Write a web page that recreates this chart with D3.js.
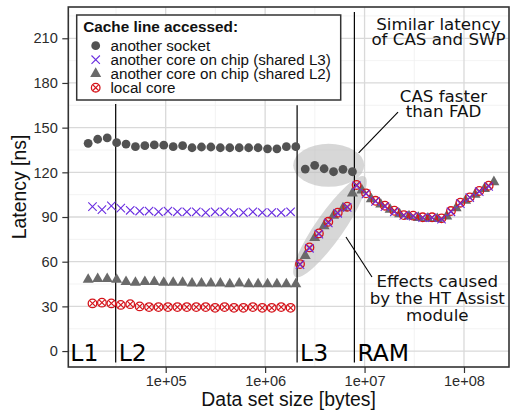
<!DOCTYPE html>
<html>
<head>
<meta charset="utf-8">
<script src="https://cdn.jsdelivr.net/npm/d3@7/dist/d3.min.js"></script>
<style>
  body { margin: 0; background: #fff; }
  svg text { font-family: "Liberation Sans", Arial, sans-serif; }
  .note { font-family: "DejaVu Sans", sans-serif; }
</style>
</head>
<body>
<svg id="chart" width="510" height="415"></svg>
<script>
// Data set sizes in bytes (two interleaved measurement grids)
const sizesA = [16600, 20700, 25800, 32100, 39900, 49600, 61700, 76800, 95600, 118900,
  147900, 184000, 229000, 284800, 354400, 441000, 548700, 682600, 849300, 1057000,
  1314000, 1635000, 2035000, 2532000, 3150000, 3919000, 4876000, 6066000, 7546000, 9389000,
  11680000, 14540000, 18080000, 22500000, 27990000, 34820000, 43320000, 53900000, 67070000, 83420000,
  103800000, 129200000, 160700000, 199900000];
const sizesB = [18350, 22830, 28400, 35330, 43960, 54700, 68050, 84670, 105300, 131100,
  163000, 202900, 252400, 314000, 390700, 486100, 604800, 752400, 936200, 1165000,
  1449000, 1803000, 2243000, 2791000, 3472000, 4320000, 5374000, 6687000, 8318000, 10350000,
  12880000, 16020000, 19930000, 24800000, 30850000, 38380000, 47760000, 59420000, 73930000, 91960000,
  114400000, 142400000, 177100000];

// Latency [ns] per series
const anotherSocket = [139.5, 142.2, 143.1, 139.9, 139, 137.2, 137.9, 138.4, 138.2, 137.2,
  137.9, 136.5, 137, 137, 136.5, 136.5, 136.5, 136.5, 136.5, 135.8,
  135.8, 137.2, 137.2, 122.2, 124.7, 122.4, 120.4, 122, 120.4];
const sharedL3 = [97, 95, 97.5, 96, 94.5, 94, 94, 93.5, 94, 93.5,
  93.5, 93.5, 93, 93.5, 93.5, 93, 93, 93.5, 93, 93,
  93, 93.5, 58, 69, 78.5, 86, 92.5, 96.5, 111, 105.5,
  100.5, 97, 93.5, 91, 90.5, 89.5, 89.5, 88.5, 93.5, 99,
  103, 107, 110.5];
const sharedL2 = [48, 48.5, 48.5, 48, 46.5, 46, 46.5, 46.5, 46, 46,
  46, 45.5, 45.5, 45.5, 45.5, 45, 45.5, 45, 45, 45,
  45, 45, 45, 64, 76, 84, 91, 96, 106, 108,
  102, 98.5, 95, 92, 90.5, 89.5, 89, 88.8, 90.5, 96,
  101, 105, 109, 113.5];
const localCore = [32, 32.5, 32, 31, 31.5, 30, 29.5, 29.5, 29.5, 29.5,
  29.5, 29.5, 29.5, 29, 29.5, 29, 29, 29.5, 29, 29,
  29.5, 29, 58.4, 69.6, 79, 86.8, 92.9, 96.9, 111.5, 105.9,
  100.9, 97.6, 94.2, 91.3, 90.9, 89.8, 89.8, 89.1, 94, 99.6,
  103.2, 107.5, 111];

const seriesNames = ["another socket", "another core on chip (shared L3)",
  "another core on chip (shared L2)", "local core"];

// Axis ticks
const yTicks = [0, 30, 60, 90, 120, 150, 180, 210];
const yMinor = [15, 45, 75, 105, 135, 165, 195, 225];
const xTicks = [1e5, 1e6, 1e7, 1e8];
const xTickLabels = ["1e+05", "1e+06", "1e+07", "1e+08"];
const xMinor = [31623, 316228, 3162278, 31622777];
const xDomain = [10480, 2.836e8];
const yDomain = [-10.7, 231];

// Cache level boundaries (bytes) and vertical extent of their markers (ns)
const levels = ["L1", "L2", "L3", "RAM"];
const levelStart = [10480, 31400, 2097152, 7900000];
const levelLineTop = [null, 165.9, 165, 227.7];
const levelLineBottom = -7.6;

// Annotations (data coordinates)
const notes = [
  { lines: ["Similar latency", "of CAS and SWP"], x: 5.54e7, y: [215.5, 205.3] },
  { lines: ["CAS faster", "than FAD"], x: 6.22e7, y: [167.4, 156.9] },
  { lines: ["Effects caused", "by the HT Assist", "module"], x: 5.39e7, y: [42.8, 31.6, 20.2] }
];
const pointers = [
  { x1: 2.17e7, y1: 160.5, x2: 8.72e6, y2: 133 },
  { x1: 6.5e6, y1: 76.6, x2: 1.187e7, y2: 49.7 }
];
const highlights = [
  { x: 4.36e6, y: 124.7, rx: 35.5, ry: 21.5, angle: 0 },
  { x: 4.49e6, y: 83.5, rx: 61, ry: 14, angle: -55 }
];

const svg = d3.select("#chart");
const m = { left: 68.3, right: 509, top: 7, bottom: 367 };

const x = d3.scaleLog().domain(xDomain).range([m.left, m.right]);
const y = d3.scaleLinear().domain(yDomain).range([m.bottom, m.top]);

const gPanel = svg.append("g");
gPanel.append("defs").append("clipPath").attr("id", "clip")
  .append("rect").attr("x", m.left).attr("y", m.top)
  .attr("width", m.right - m.left).attr("height", m.bottom - m.top);

// gridlines
const grid = gPanel.append("g");
grid.selectAll(".ymin").data(yMinor).join("line")
  .attr("x1", m.left).attr("x2", m.right)
  .attr("y1", d => y(d)).attr("y2", d => y(d))
  .attr("stroke", "#f0f0f0").attr("stroke-width", 0.8);
grid.selectAll(".xmin").data(xMinor).join("line")
  .attr("y1", m.top).attr("y2", m.bottom)
  .attr("x1", d => x(d)).attr("x2", d => x(d))
  .attr("stroke", "#f0f0f0").attr("stroke-width", 0.8);
grid.selectAll(".ymaj").data(yTicks).join("line")
  .attr("x1", m.left).attr("x2", m.right)
  .attr("y1", d => y(d)).attr("y2", d => y(d))
  .attr("stroke", "#d9d9d9").attr("stroke-width", 1.3);
grid.selectAll(".xmaj").data(xTicks).join("line")
  .attr("y1", m.top).attr("y2", m.bottom)
  .attr("x1", d => x(d)).attr("x2", d => x(d))
  .attr("stroke", "#d9d9d9").attr("stroke-width", 1.3);

// highlight ellipses
const plot = gPanel.append("g").attr("clip-path", "url(#clip)");
plot.selectAll("ellipse").data(highlights).join("ellipse")
  .attr("cx", 0).attr("cy", 0)
  .attr("rx", d => d.rx).attr("ry", d => d.ry)
  .attr("transform", d => `translate(${x(d.x)},${y(d.y)}) rotate(${d.angle})`)
  .attr("fill", "#bdbdbd").attr("fill-opacity", 0.6);

// cache level boundaries
levels.forEach((name, i) => {
  if (levelLineTop[i] !== null) {
    plot.append("line")
      .attr("x1", x(levelStart[i])).attr("x2", x(levelStart[i]))
      .attr("y1", y(levelLineTop[i])).attr("y2", y(levelLineBottom))
      .attr("stroke", "#000").attr("stroke-width", 1.2);
  }
  plot.append("text").attr("class", "note")
    .attr("x", x(levelStart[i]) + (i === 0 ? 2 : 3))
    .attr("y", y(-6.8))
    .attr("font-size", 23.5).attr("fill", "#000")
    .style("font-family", "'DejaVu Sans', sans-serif")
    .text(name);
});

// marker shapes
const colSocket = "#525252", colL2 = "#6a6a6a", colL3 = "#6a2ee0", colLocal = "#d5151c";
function drawDot(g, cx, cy) {
  g.append("circle").attr("cx", cx).attr("cy", cy).attr("r", 4.4).attr("fill", colSocket);
}
function drawTri(g, cx, cy) {
  const h = 9.6, w = 11;
  g.append("path")
    .attr("d", `M${cx},${cy - h * 2 / 3}L${cx + w / 2},${cy + h / 3}L${cx - w / 2},${cy + h / 3}Z`)
    .attr("fill", colL2);
}
function drawCross(g, cx, cy) {
  const a = 4.2;
  g.append("path")
    .attr("d", `M${cx - a},${cy - a}L${cx + a},${cy + a}M${cx - a},${cy + a}L${cx + a},${cy - a}`)
    .attr("stroke", colL3).attr("stroke-width", 1.1).attr("fill", "none");
}
function drawCircX(g, cx, cy) {
  const r = 4.3, a = r * Math.SQRT1_2;
  g.append("circle").attr("cx", cx).attr("cy", cy).attr("r", r)
    .attr("fill", "none").attr("stroke", colLocal).attr("stroke-width", 1.3);
  g.append("path")
    .attr("d", `M${cx - a},${cy - a}L${cx + a},${cy + a}M${cx - a},${cy + a}L${cx + a},${cy - a}`)
    .attr("stroke", colLocal).attr("stroke-width", 1.2).attr("fill", "none");
}

const pts = plot.append("g");
anotherSocket.forEach((v, i) => drawDot(pts, x(sizesA[i]), y(v)));
sharedL2.forEach((v, i) => drawTri(pts, x(sizesA[i]), y(v)));
localCore.forEach((v, i) => drawCircX(pts, x(sizesB[i]), y(v)));
sharedL3.forEach((v, i) => drawCross(pts, x(sizesB[i]), y(v)));

// annotation pointers and text
plot.selectAll(".ptr").data(pointers).join("line")
  .attr("x1", d => x(d.x1)).attr("y1", d => y(d.y1))
  .attr("x2", d => x(d.x2)).attr("y2", d => y(d.y2))
  .attr("stroke", "#000").attr("stroke-width", 1.1);
notes.forEach(n => {
  n.lines.forEach((t, j) => {
    svg.append("text").attr("class", "note")
      .attr("x", x(n.x)).attr("y", y(n.y[j]))
      .attr("text-anchor", "middle").attr("font-size", 16.7).attr("fill", "#111")
      .style("font-family", "'DejaVu Sans', sans-serif")
      .text(t);
  });
});

// panel border
svg.append("rect").attr("x", m.left).attr("y", m.top)
  .attr("width", m.right - m.left).attr("height", m.bottom - m.top)
  .attr("fill", "none").attr("stroke", "#333").attr("stroke-width", 1.6);

// axes
const yAxis = svg.append("g").attr("transform", `translate(${m.left},0)`)
  .call(d3.axisLeft(y).tickValues(yTicks).tickSize(6).tickPadding(4.5));
const xAxis = svg.append("g").attr("transform", `translate(0,${m.bottom})`)
  .call(d3.axisBottom(x).tickValues(xTicks).tickFormat((d, i) => xTickLabels[i]).tickSize(6).tickPadding(3));
[yAxis, xAxis].forEach(a => {
  a.select(".domain").remove();
  a.selectAll(".tick line").attr("stroke", "#333").attr("stroke-width", 1.2);
  a.selectAll(".tick text").attr("fill", "#2b2b2b").attr("font-size", 14.6)
    .style("font-family", "'Liberation Sans', Arial, sans-serif");
});

// axis titles
svg.append("text").attr("x", (m.left + m.right) / 2).attr("y", 406)
  .attr("text-anchor", "middle").attr("font-size", 19.4).attr("fill", "#111")
  .text("Data set size [bytes]");
svg.append("text")
  .attr("transform", `translate(26,${(m.top + m.bottom) / 2}) rotate(-90)`)
  .attr("text-anchor", "middle").attr("font-size", 19.4).attr("fill", "#111")
  .text("Latency [ns]");

// legend
const lg = svg.append("g");
lg.append("rect").attr("x", 76.7).attr("y", 15).attr("width", 264).attr("height", 85)
  .attr("fill", "#fff").attr("stroke", "#333").attr("stroke-width", 1.5);
lg.append("text").attr("x", 83.3).attr("y", 32.3)
  .attr("font-size", 15.3).attr("font-weight", "bold").attr("fill", "#111")
  .text("Cache line accessed:");
const keyDraw = [drawDot, drawCross, drawTri, drawCircX];
seriesNames.forEach((name, i) => {
  const cy = 45.7 + i * 14;
  keyDraw[i](lg, 95.7, cy);
  lg.append("text").attr("x", 110.5).attr("y", cy + 5.2)
    .attr("font-size", 15.2).attr("fill", "#111").text(name);
});
</script>
</body>
</html>
